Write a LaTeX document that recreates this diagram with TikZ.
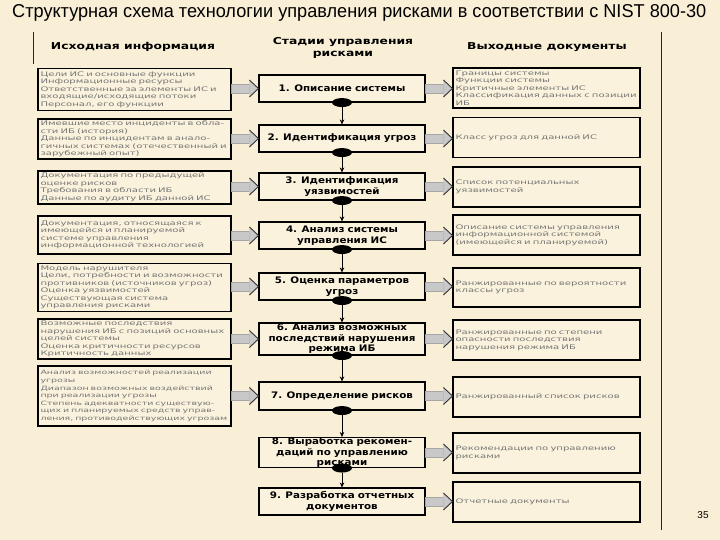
\documentclass[tikz,border=0pt]{standalone}
\usepackage{graphicx}
\usepackage{fontspec}
\setmainfont{DejaVu Sans}
\newfontfamily\titlefont{Liberation Sans}
\newfontfamily\smallfont[FakeStretch=1.6]{DejaVu Sans}
\newfontfamily\stagefont[FakeStretch=1.15]{DejaVu Sans}
\newfontfamily\headfont[FakeStretch=1.3]{DejaVu Sans}
\usetikzlibrary{arrows.meta,calc,shapes.geometric}
\definecolor{bg}{HTML}{F9EFD6}
\definecolor{boxbg}{HTML}{FAF2DC}
\definecolor{txtgray}{HTML}{767676}
\definecolor{arrfill}{HTML}{C8C8C8}
\newcommand{\blockarr}[2]{%
  \path (#1) coordinate (ba-s) (#2) coordinate (ba-e);
  \filldraw[fill=arrfill, draw=gray!70, line width=0.4pt] ($(ba-s)+(0,-4.5)$) rectangle ($(ba-e)+(-9,4.5)$);
  \fill[arrfill] ($(ba-e)+(-9,-8.5)$) -- (ba-e) -- ($(ba-e)+(-9,8.5)$) -- cycle;
  \draw[line width=0.9pt, black!80, line join=miter] ($(ba-e)+(-9,-8.5)$) -- (ba-e) -- ($(ba-e)+(-9,8.5)$);
}
\begin{document}
\begin{tikzpicture}[x=1pt,y=-1pt,
  box/.style={draw=black, line width=1.1pt, fill=boxbg, rectangle, inner sep=0pt},
  lbox/.style={box, minimum width=193pt, text width=188pt, align=left,
     font=\smallfont\fontsize{6.3}{7.5}\selectfont, text=txtgray},
  rbox/.style={box, minimum width=187pt, text width=182pt, align=left, minimum height=40pt,
     font=\smallfont\fontsize{6.3}{7.5}\selectfont, text=txtgray},
  cbox/.style={box, minimum width=166pt, text width=160pt, align=center, minimum height=27pt,
     font=\stagefont\bfseries\fontsize{9}{10.5}\selectfont, text=black},
  head/.style={font=\headfont\bfseries\fontsize{9.5}{12}\selectfont, align=center, inner sep=0pt},
  dot/.style={ellipse, fill=black, minimum width=20pt, minimum height=9pt, inner sep=0pt},
  down/.style={-{Stealth[length=5pt,width=4.5pt]}, line width=0.6pt, black}
]
\fill[bg] (0,0) rectangle (720,540);
\useasboundingbox (0,0) rectangle (720,540);

% title
\node[anchor=base west, inner sep=0pt] (T) at (12,18) {\resizebox{694pt}{13pt}{\titlefont Структурная схема технологии управления рисками в соответствии с NIST 800-30}};

% frame lines
\coordinate (vl1) at (33,32); \coordinate (vl2) at (33,64);
\coordinate (vr1) at (661,32); \coordinate (vr2) at (661,530);
\draw[line width=1pt, black!85] (vl1) -- (vl2);
\draw[line width=1pt, black!85] (vr1) -- (vr2);

% headers
\node[head] (H1) at (133,47) {Исходная информация};
\node[head] (H2) at (343,48) {Стадии управления\\рисками};
\node[head] (H3) at (547,47) {Выходные документы};

% left boxes
\node[lbox, minimum height=42pt] (L1) at (134.5,89.5) {Цели ИС и основные функции\\Информационные ресурсы\\Ответственные за элементы ИС и\\входящие/исходящие потоки\\Персонал, его функции};
\node[lbox, minimum height=40pt] (L2) at (134.5,139) {Имевшие место инциденты в обла-\\сти ИБ (история)\\Данные по инцидентам в анало-\\гичных системах (отечественный и\\зарубежный опыт)};
\node[lbox, minimum height=33pt] (L3) at (134.5,187.5) {Документация по предыдущей\\оценке рисков\\Требования в области ИБ\\Данные по аудиту ИБ данной ИС};
\node[lbox, minimum height=38pt] (L4) at (134.5,235) {Документация, относящаяся к\\имеющейся и планируемой\\системе управления\\информационной технологией};
\node[lbox, minimum height=48pt] (L5) at (134.5,287.5) {Модель нарушителя\\Цели, потребности и возможности\\противников (источников угроз)\\Оценка уязвимостей\\Существующая система\\управления рисками};
\node[lbox, minimum height=40pt] (L6) at (134.5,339) {Возможные последствия\\нарушения ИБ с позиций основных\\целей системы\\Оценка критичности ресурсов\\Критичность данных};
\node[lbox, minimum height=60pt, font=\smallfont\fontsize{5.9}{7.6}\selectfont] (L7) at (134.5,396) {Анализ возможностей реализации\\угрозы\\Диапазон возможных воздействий\\при реализации угрозы\\Степень адекватности существую-\\щих и планируемых средств управ-\\\mbox{ления, противодействующих угрозам}};

% centre boxes
\node[cbox] (C1) at (342,88.5) {1. Описание системы};
\node[cbox] (C2) at (342,138.5) {2. Идентификация угроз};
\node[cbox] (C3) at (342,186.5) {3. Идентификация\\уязвимостей};
\node[cbox] (C4) at (342,235.5) {4. Анализ системы\\управления ИС};
\node[cbox] (C5) at (342,286.5) {5. Оценка параметров\\угроз};
\node[cbox, minimum height=32pt] (C6) at (342,339) {6. Анализ возможных\\последствий нарушения\\режима ИБ};
\node[cbox, minimum height=28pt] (C7) at (342,396) {7. Определение рисков};
\node[cbox, minimum height=29pt] (C8) at (342,452.5) {8. Выработка рекомен-\\даций по управлению\\рисками};
\node[cbox] (C9) at (342,501.5) {9. Разработка отчетных\\документов};

% right boxes
\node[rbox] (R1) at (546.5,88) {Границы системы\\Функции системы\\Критичные элементы ИС\\Классификация данных с позиции\\ИБ};
\node[rbox] (R2) at (546.5,137.5) {Класс угроз для данной ИС};
\node[rbox] (R3) at (546.5,187) {Список потенциальных\\уязвимостей};
\node[rbox] (R4) at (546.5,235) {Описание системы управления\\информационной системой\\(имеющейся и планируемой)};
\node[rbox, minimum height=39pt] (R5) at (546.5,287.5) {Ранжированные по вероятности\\классы угроз};
\node[rbox] (R6) at (546.5,340) {Ранжированные по степени\\опасности последствия\\нарушения режима ИБ};
\node[rbox] (R7) at (546.5,397) {Ранжированный список рисков};
\node[rbox] (R8) at (546.5,453) {Рекомендации по управлению\\рисками};
\node[rbox] (R9) at (546.5,502) {Отчетные документы};

% block arrows left -> centre
\foreach \i in {1,...,7} {\blockarr{L\i.east |- C\i.west}{C\i.west}}
% block arrows centre -> right
\foreach \i in {1,...,9} {\blockarr{C\i.east}{R\i.west |- C\i.east}}

% dots and down arrows
\foreach \i/\j in {1/2,2/3,3/4,4/5,5/6,6/7,7/8,8/9} {
  \node[dot] (E\i) at (C\i.south) {};
  \draw[down] (E\i.south) -- (C\j.north);
}

% page number
\node[font=\titlefont\fontsize{10}{12}\selectfont, inner sep=0pt] (P) at (703,515) {35};
\end{tikzpicture}
\end{document}
